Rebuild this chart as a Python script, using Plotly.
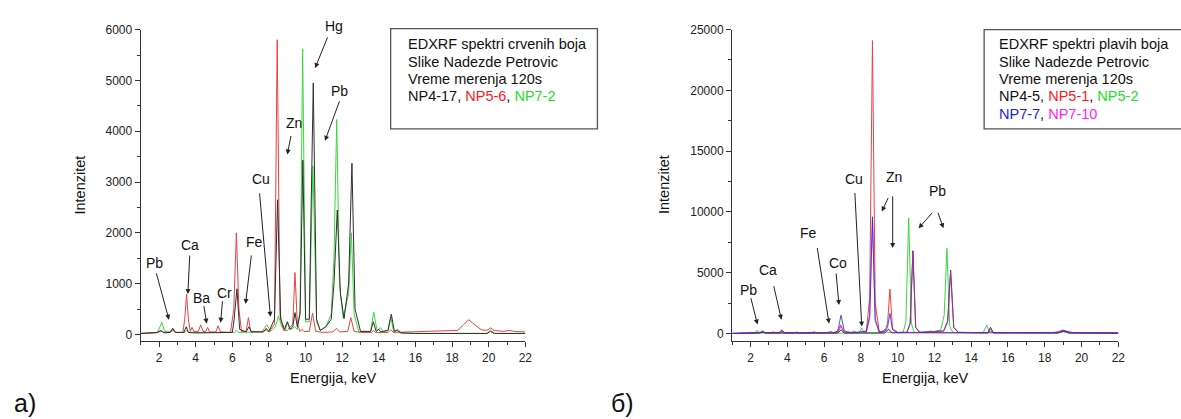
import plotly.graph_objects as go

W, H = 1181, 419

# ---------------- data: panel a) red pigments ----------------
a_np4_17_e = [1.0, 1.9, 2.1, 2.3, 2.6, 2.75, 2.9, 3.35, 3.48, 3.6, 4.0, 6.0, 6.1, 6.25, 6.4, 6.75, 6.9, 7.05,
              7.7, 7.85, 8.0, 8.3, 8.47, 8.64, 8.85, 9.0, 9.15, 9.3, 9.42, 9.55, 9.7, 9.85, 10.0, 10.2, 10.42,
              10.6, 10.8, 11.1, 11.4, 11.55, 11.73, 11.9, 12.1, 12.35, 12.53, 12.7, 13.0, 13.55, 13.7, 13.85,
              14.0, 14.1, 14.25, 14.5, 14.68, 14.85, 15.0, 15.2, 16.0, 19.9, 20.1, 20.3, 22.0]
a_np4_17_i = [20, 40, 70, 30, 40, 120, 40, 40, 150, 40, 30, 40, 300, 900, 100, 50, 150, 50,
              50, 120, 60, 300, 2650, 300, 100, 250, 100, 150, 430, 150, 400, 3430, 300, 300, 4950,
              300, 80, 150, 300, 1000, 2450, 800, 310, 1000, 3370, 500, 60, 60, 250, 60,
              100, 50, 60, 80, 400, 60, 80, 30, 20, 20, 60, 20, 20]

a_np5_6_e = [1.0, 1.8, 2.0, 2.1, 2.25, 2.6, 2.75, 2.9, 3.3, 3.4, 3.5, 3.6, 3.7, 3.8, 3.9, 4.15, 4.27, 4.4,
             4.55, 4.65, 4.75, 5.1, 5.22, 5.35, 5.9, 6.08, 6.22, 6.36, 6.5, 6.75, 6.88, 7.0, 7.6, 7.85, 8.0,
             8.3, 8.45, 8.6, 8.8, 9.0, 9.3, 9.42, 9.55, 9.7, 9.8, 9.9, 10.2, 10.38, 10.55, 11.0, 11.5, 11.68,
             11.85, 12.3, 12.47, 12.65, 13.0, 13.6, 13.7, 13.8, 14.5, 14.65, 14.8, 15.5, 17.0, 18.3, 18.6,
             18.9, 19.2, 19.6, 19.9, 20.1, 20.3, 20.8, 21.1, 21.4, 22.0]
a_np5_6_i = [20, 30, 60, 80, 40, 40, 80, 40, 40, 300, 790, 300, 60, 140, 60, 60, 190, 60,
             60, 140, 50, 50, 170, 50, 40, 500, 2000, 500, 60, 60, 330, 60, 50, 90, 50,
             200, 5800, 400, 80, 80, 200, 1220, 200, 60, 100, 60, 60, 420, 60, 40, 50, 120,
             50, 60, 330, 60, 40, 40, 80, 40, 40, 90, 40, 50, 60, 80, 180,
             290, 200, 90, 80, 130, 80, 60, 80, 60, 50]

a_np7_2_e = [1.0, 1.9, 2.05, 2.15, 2.3, 2.6, 2.75, 2.9, 3.4, 3.5, 3.6, 6.1, 6.22, 6.35, 7.6, 7.88, 8.1, 8.35,
             8.52, 8.7, 8.9, 9.02, 9.15, 9.3, 9.4, 9.55, 9.7, 9.84, 10.0, 10.2, 10.4, 10.6, 10.8, 11.1, 11.4,
             11.55, 11.7, 11.85, 12.05, 12.35, 12.5, 12.65, 12.9, 13.55, 13.72, 13.9, 14.1, 14.25, 14.5,
             14.65, 14.8, 15.05, 15.2, 16.0, 19.9, 20.1, 20.3, 22.0]
a_np7_2_i = [20, 40, 150, 240, 60, 50, 110, 40, 40, 80, 40, 40, 80, 40, 50, 190, 60, 150,
             370, 150, 100, 250, 100, 120, 150, 100, 500, 5620, 250, 250, 3320, 250, 80, 150, 400,
             1500, 4230, 1000, 330, 800, 2000, 400, 60, 60, 440, 80, 130, 60, 80,
             350, 60, 100, 30, 20, 20, 90, 20, 20]

# ---------------- data: panel b) blue pigments ----------------
b_np4_5_e = [1.0, 2.5, 2.65, 2.8, 6.75, 6.92, 7.1, 9.3, 9.5, 9.7, 10.5, 10.68, 10.83, 10.98, 11.2, 12.5, 12.72,
             12.88, 13.05, 13.3, 14.9, 15.05, 15.2, 18.7, 19.0, 19.3, 22.0]
b_np4_5_i = [0, 30, 100, 30, 30, 300, 30, 30, 350, 50, 80, 800, 6800, 500, 80, 200, 1000,
             5200, 500, 80, 50, 500, 50, 40, 200, 40, 20]

b_np5_1_e = [1.0, 2.3, 2.6, 3.0, 3.6, 3.75, 3.9, 6.3, 6.7, 6.9, 7.1, 7.5, 7.6, 7.8, 8.3, 8.48, 8.63, 8.78,
             9.0, 9.3, 9.45, 9.58, 9.72, 10.0, 12.0, 14.0, 18.5, 19.0, 19.5, 20.3, 20.5, 20.7, 22.0]
b_np5_1_i = [0, 50, 100, 50, 50, 150, 50, 50, 100, 700, 100, 80, 180, 80, 200, 3000, 24100, 2500,
             150, 200, 800, 3650, 400, 80, 50, 50, 80, 250, 80, 50, 100, 50, 50]

b_np5_2_e = [1.0, 2.2, 2.35, 2.5, 3.5, 3.65, 3.8, 7.9, 8.05, 8.2, 9.1, 9.3, 9.45, 10.3, 10.45, 10.6, 10.75,
             10.9, 11.5, 11.8, 12.0, 12.35, 12.53, 12.68, 12.83, 13.0, 14.65, 14.85, 15.0, 18.7, 19.0,
             19.3, 22.0]
b_np5_2_i = [0, 30, 250, 30, 30, 150, 30, 30, 450, 30, 60, 350, 60, 80, 1000, 9500, 800,
             80, 100, 200, 150, 300, 1500, 7000, 600, 80, 60, 680, 60, 40, 150,
             40, 20]

b_np7_7_e = [1.0, 2.5, 2.65, 2.8, 3.1, 3.25, 3.4, 3.55, 3.7, 3.85, 4.4, 4.5, 4.6, 5.3, 5.45, 5.6, 6.2, 6.35,
             6.5, 6.75, 6.92, 7.1, 7.3, 7.6, 8.3, 8.48, 8.63, 8.78, 9.0, 9.3, 9.45, 9.58, 9.72, 10.0,
             14.9, 15.05, 15.2, 18.8, 19.1, 19.4, 22.0]
b_np7_7_i = [0, 50, 200, 60, 60, 120, 60, 60, 300, 60, 60, 120, 60, 60, 130, 60, 60, 170,
             60, 200, 1500, 200, 120, 60, 150, 1500, 9600, 1200, 100, 150, 500, 1650, 300, 50,
             50, 200, 50, 50, 200, 50, 30]

b_np7_10_e = [1.0, 2.5, 2.65, 2.8, 3.55, 3.7, 3.85, 6.75, 6.92, 7.1, 8.3, 8.48, 8.63, 8.78, 9.0, 9.35, 9.5,
              9.65, 10.5, 10.68, 10.83, 10.98, 11.2, 12.5, 12.72, 12.88, 13.05, 13.3, 14.9, 15.05, 15.2,
              18.7, 19.0, 19.3, 22.0]
b_np7_10_i = [0, 50, 150, 50, 50, 200, 50, 50, 600, 50, 100, 1200, 9400, 1000, 100, 80, 300,
              80, 100, 800, 6700, 500, 100, 200, 900, 5100, 500, 100, 50, 400, 50,
              50, 300, 50, 20]

x_ticks = [2, 4, 6, 8, 10, 12, 14, 16, 18, 20, 22]

# ---------------- figure ----------------
def px_x(p):
    return p / W

def px_y(p):
    return 1 - p / H

FONT = "Liberation Sans, Arial, sans-serif"
AX = "#333333"

fig = go.Figure()

def add(e, i, color, xa, ya, width=1.0):
    fig.add_trace(go.Scatter(x=e, y=i, mode="lines", line=dict(color=color, width=width),
                             xaxis=xa, yaxis=ya, showlegend=False, hoverinfo="skip"))

# panel a
add(a_np7_2_e, a_np7_2_i, "#3ad83a", "x", "y")
add(a_np5_6_e, a_np5_6_i, "#ee4040", "x", "y")
add(a_np4_17_e, a_np4_17_i, "#303030", "x", "y")

# panel b
add(b_np5_2_e, b_np5_2_i, "#3ad83a", "x2", "y2")
add(b_np5_1_e, b_np5_1_i, "#ee4040", "x2", "y2")
add(b_np4_5_e, b_np4_5_i, "#303030", "x2", "y2")
add(b_np7_10_e, b_np7_10_i, "rgba(200,40,200,0.75)", "x2", "y2")
add(b_np7_7_e, b_np7_7_i, "rgba(40,40,230,0.8)", "x2", "y2")

ydom = [px_y(340), px_y(23)]

def xax(dom):
    return dict(domain=dom, range=[1, 22], tickvals=x_ticks, ticks="outside", ticklen=5, tickwidth=1,
                tickcolor=AX, showline=True, linecolor=AX, linewidth=1.3, showgrid=False, zeroline=False,
                tickfont=dict(family=FONT, size=12, color="#222"),
                minor=dict(ticks="outside", ticklen=3, tickwidth=1, tickcolor=AX, dtick=1, tick0=1,
                           showgrid=False))

def yax(rng, dt, anchor):
    return dict(domain=ydom, range=rng, dtick=dt, tick0=0, ticks="outside", ticklen=5, tickwidth=1,
                tickcolor=AX, showline=True, linecolor=AX, linewidth=1.3, showgrid=False, zeroline=False,
                tickformat="d", anchor=anchor, tickfont=dict(family=FONT, size=12, color="#222"),
                minor=dict(ticks="outside", ticklen=3, tickwidth=1, tickcolor=AX, dtick=dt / 2,
                           showgrid=False))

fig.update_layout(
    width=W, height=H, margin=dict(l=0, r=0, t=0, b=0),
    paper_bgcolor="white", plot_bgcolor="white",
    xaxis=xax([px_x(141.6), px_x(528.5)]),
    yaxis=yax([-135, 6000], 1000, "x"),
    xaxis2=dict(xax([px_x(736.5), px_x(1125)]), anchor="y2"),
    yaxis2=yax([-650, 25000], 5000, "x2"),
)
fig.layout.xaxis.anchor = "y"

ann = []

def txt(x, y, s, size=14, **kw):
    d = dict(x=px_x(x), y=px_y(y), xref="paper", yref="paper", text=s, showarrow=False,
             font=dict(family=FONT, size=size, color="#111"), xanchor="center", yanchor="middle")
    d.update(kw)
    ann.append(d)

def arrow(xa, ya, hx, hy, dx, dy):
    ann.append(dict(x=hx, y=hy, xref=xa, yref=ya, ax=dx, ay=dy, axref="pixel", ayref="pixel",
                    text="", showarrow=True, arrowhead=2, arrowsize=1.0, arrowwidth=1,
                    arrowcolor="#222", standoff=0, startstandoff=0))

# axis titles
txt(335, 377, "Energija, keV", 14.5)
txt(931, 377, "Energija, keV", 14.5)
txt(80, 181, "Intenzitet", 14.5, textangle=-90)
txt(668, 181, "Intenzitet", 14.5, textangle=-90)
txt(25, 403, "a)", 25)
txt(626, 403, "б)", 25)

# element labels panel a  (text px, arrow head in data, tail offset px)
txt(155, 260, "Pb"); arrow("x", "y", 2.54, 290, -13, -48)
txt(191, 242, "Ca"); arrow("x", "y", 3.57, 794, 2, -40)
txt(203, 296, "Ba"); arrow("x", "y", 4.60, 213, -3, -19)
txt(226, 291, "Cr"); arrow("x", "y", 5.36, 232, 2, -23)
txt(256, 239, "Fe"); arrow("x", "y", 6.72, 600, 6, -50)
txt(263, 175, "Cu"); arrow("x", "y", 8.08, 348, -11, -125)
txt(296, 118, "Zn"); arrow("x", "y", 9.00, 3542, 4, -20)
txt(336, 19, "Hg"); arrow("x", "y", 10.52, 5245, 13, -32)
txt(342, 85, "Pb"); arrow("x", "y", 11.06, 3813, 15, -41)

# element labels panel b
txt(753, 288, "Pb"); arrow("x2", "y2", 2.38, 728, -7, -28)
txt(773, 267, "Ca"); arrow("x2", "y2", 3.68, 1133, -8, -35)
txt(813, 230, "Fe"); arrow("x2", "y2", 6.27, 809, -12, -77)
txt(843, 260, "Co"); arrow("x2", "y2", 6.81, 2346, -3, -33)
txt(859, 175, "Cu"); arrow("x2", "y2", 8.05, 566, -7, -135)
txt(899, 173, "Zn"); arrow("x2", "y2", 9.14, 10032, 7, -15); arrow("x2", "y2", 9.73, 7038, 0, -53)
txt(943, 187, "Pb"); arrow("x2", "y2", 11.14, 8656, 15, -17); arrow("x2", "y2", 12.49, 8656, -6, -17)

# info boxes
shapes = [
    dict(type="rect", xref="paper", yref="paper", x0=px_x(393), x1=px_x(601), y0=px_y(124), y1=px_y(22),
         line=dict(color="#555", width=1.3), fillcolor="rgba(0,0,0,0)"),
    dict(type="rect", xref="paper", yref="paper", x0=px_x(990), x1=px_x(1190), y0=px_y(124), y1=px_y(23),
         line=dict(color="#555", width=1.3), fillcolor="rgba(0,0,0,0)"),
]
R, G, B, M = "#ff1a1a", "#22e022", "#1a1aff", "#ff22ff"
left_lines = ["EDXRF spektri crvenih boja", "Slike Nadezde Petrovic", "Vreme merenja 120s",
              f"NP4-17, <span style='color:{R}'>NP5-6</span>, <span style='color:{G}'>NP7-2</span>"]
right_lines = ["EDXRF spektri plavih boja", "Slike Nadezde Petrovic", "Vreme merenja 120s",
               f"NP4-5, <span style='color:{R}'>NP5-1</span>, <span style='color:{G}'>NP5-2</span>",
               f"<span style='color:{B}'>NP7-7</span>, <span style='color:{M}'>NP7-10</span>"]
ys = [38, 56, 73.5, 91, 108.5]
for k, s in enumerate(left_lines):
    txt(408, ys[k], s, 14.5, xanchor="left")
for k, s in enumerate(right_lines):
    txt(1003, ys[k], s, 14.5, xanchor="left")

fig.update_layout(annotations=ann, shapes=shapes)
fig.write_html("out.html")
